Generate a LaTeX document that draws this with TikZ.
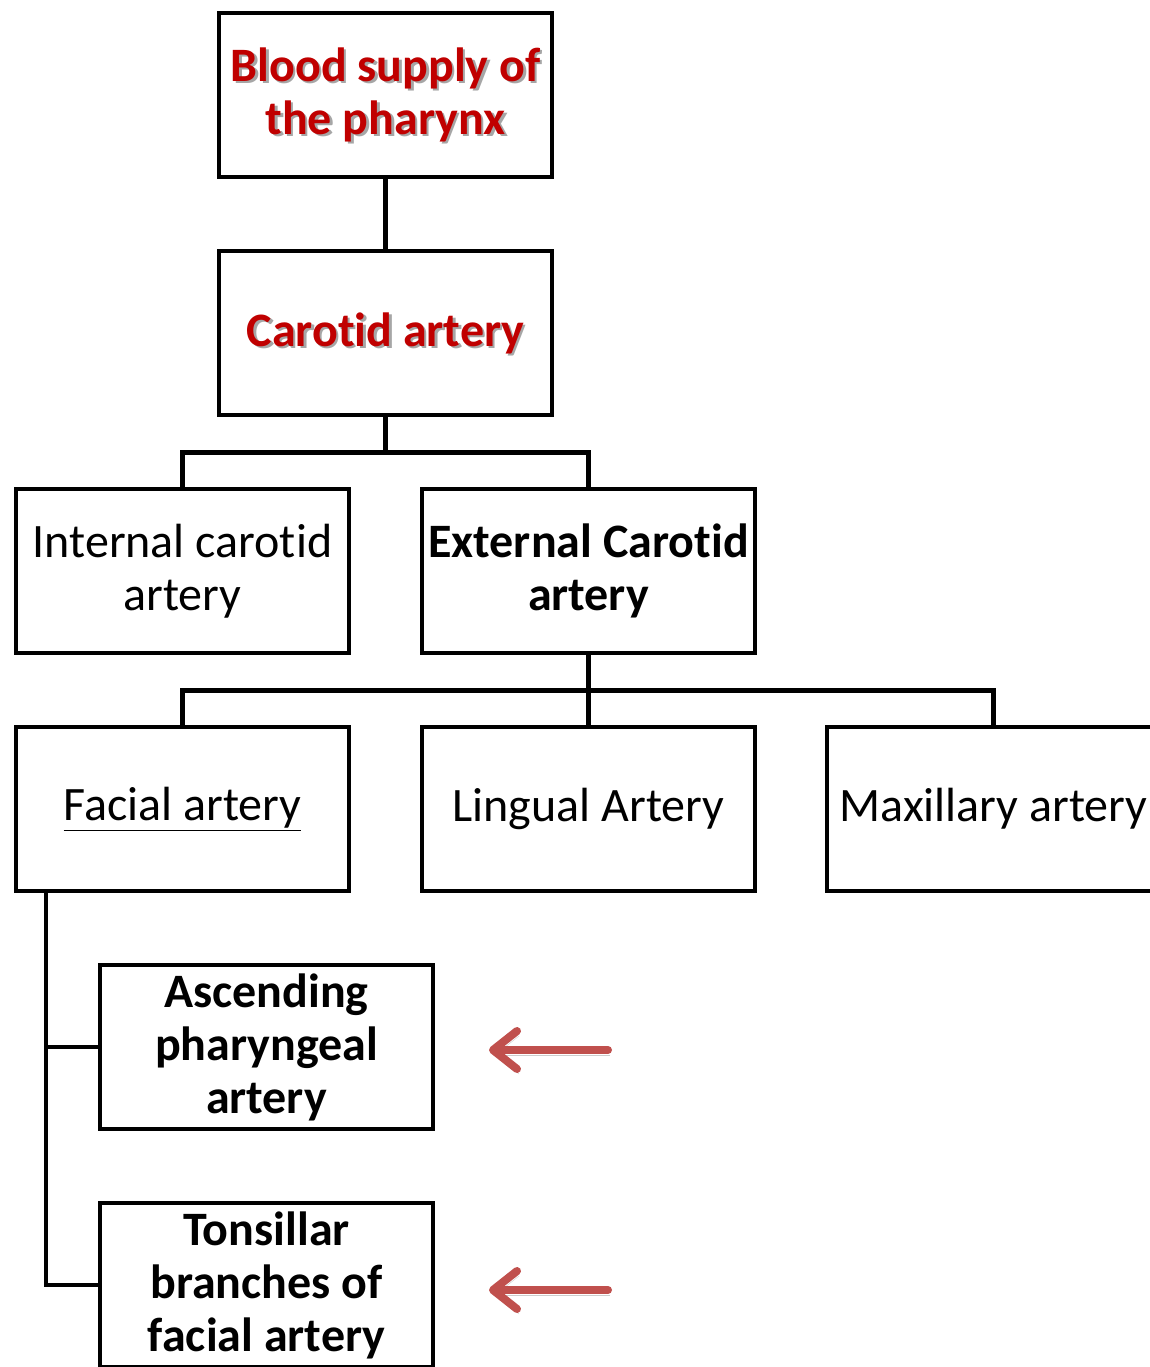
\documentclass[tikz,border=0pt]{standalone}
\usepackage{fontspec}
\setmainfont{Carlito}[Ligatures=NoCommon]
\usetikzlibrary{arrows.meta}
\usetikzlibrary{calc}
\pgfdeclarelayer{edgelayer}
\pgfdeclarelayer{nodelayer}
\pgfsetlayers{edgelayer,nodelayer,main}
\definecolor{titlered}{HTML}{C00000}
\definecolor{arrowred}{HTML}{C0504D}
\tikzstyle{box}=[rectangle,draw=black,fill=white,line width=4.5pt,minimum width=333pt,minimum height=164pt,align=center,inner sep=0pt,font=\fontsize{48}{53}\selectfont]
\tikzstyle{redtext}=[text=titlered,font=\fontsize{48}{53}\selectfont\bfseries]
\tikzstyle{shade}=[inner sep=0pt,align=center,text=black!35,font=\fontsize{48}{53}\selectfont\bfseries]
\tikzstyle{simple}=[-,draw=black,line width=4.5pt]
\tikzstyle{pointer}=[draw=arrowred,line width=8pt,line cap=round,-{Straight Barb[length=24pt,width=38pt,round]},preaction={draw=black!20,transform canvas={shift={(2pt,-5pt)}}}]

\begin{document}
\begin{tikzpicture}[x=1pt,y=-1pt]
	\useasboundingbox (0,0) rectangle (1149,1367);
	\begin{pgfonlayer}{nodelayer}
		\node [style=box] (blood) at (385.5, 95) {};
		\node [style=shade] at (388, 97) {Blood supply of\\the pharynx};
		\node [style=redtext, align=center] at (385.5, 95) {Blood supply of\\the pharynx};
		\node [style=box] (carotid) at (385.5, 333) {};
		\node [style=shade] at (388, 335) {Carotid artery};
		\node [style=redtext] at (385.5, 333) {Carotid artery};
		\node [style=box] (internal) at (182.5, 571) {Internal carotid\\artery};
		\node [style=box, font=\fontsize{48}{53}\selectfont\bfseries] (external) at (588.5, 571) {External Carotid\\artery};
		\node [style=box] (facial) at (182.5, 809) {\underline{Facial artery}};
		\node [style=box] (lingual) at (588.5, 809) {Lingual Artery};
		\node [style=box] (maxillary) at (993.5, 809) {Maxillary artery};
		\node [style=box, font=\fontsize{48}{53}\selectfont\bfseries] (ascending) at (266.5, 1047) {Ascending\\pharyngeal\\artery};
		\node [style=box, font=\fontsize{48}{53}\selectfont\bfseries] (tonsillar) at (266.5, 1285) {Tonsillar\\branches of\\facial artery};
		\coordinate (a1) at (608, 1050);
		\coordinate (a2) at (489, 1050);
		\coordinate (b1) at (608, 1290);
		\coordinate (b2) at (489, 1290);
	\end{pgfonlayer}
	\begin{pgfonlayer}{edgelayer}
		\draw [style=simple] (blood) to (carotid);
		\draw [style=simple] (carotid.south) -- ++(0,35) -| (internal.north);
		\draw [style=simple] (carotid.south) -- ++(0,35) -| (external.north);
		\draw [style=simple] (external.south) -- ++(0,35) -| (facial.north);
		\draw [style=simple] (external.south) -- (lingual.north);
		\draw [style=simple] (external.south) -- ++(0,35) -| (maxillary.north);
		\coordinate (bus) at ($(facial.south west)+(32,0)$);
		\draw [style=simple] (bus) |- (ascending.west);
		\draw [style=simple] (bus) |- (tonsillar.west);
	\end{pgfonlayer}
	\draw [style=pointer] (a1) to (a2);
	\draw [style=pointer] (b1) to (b2);
\end{tikzpicture}
\end{document}
